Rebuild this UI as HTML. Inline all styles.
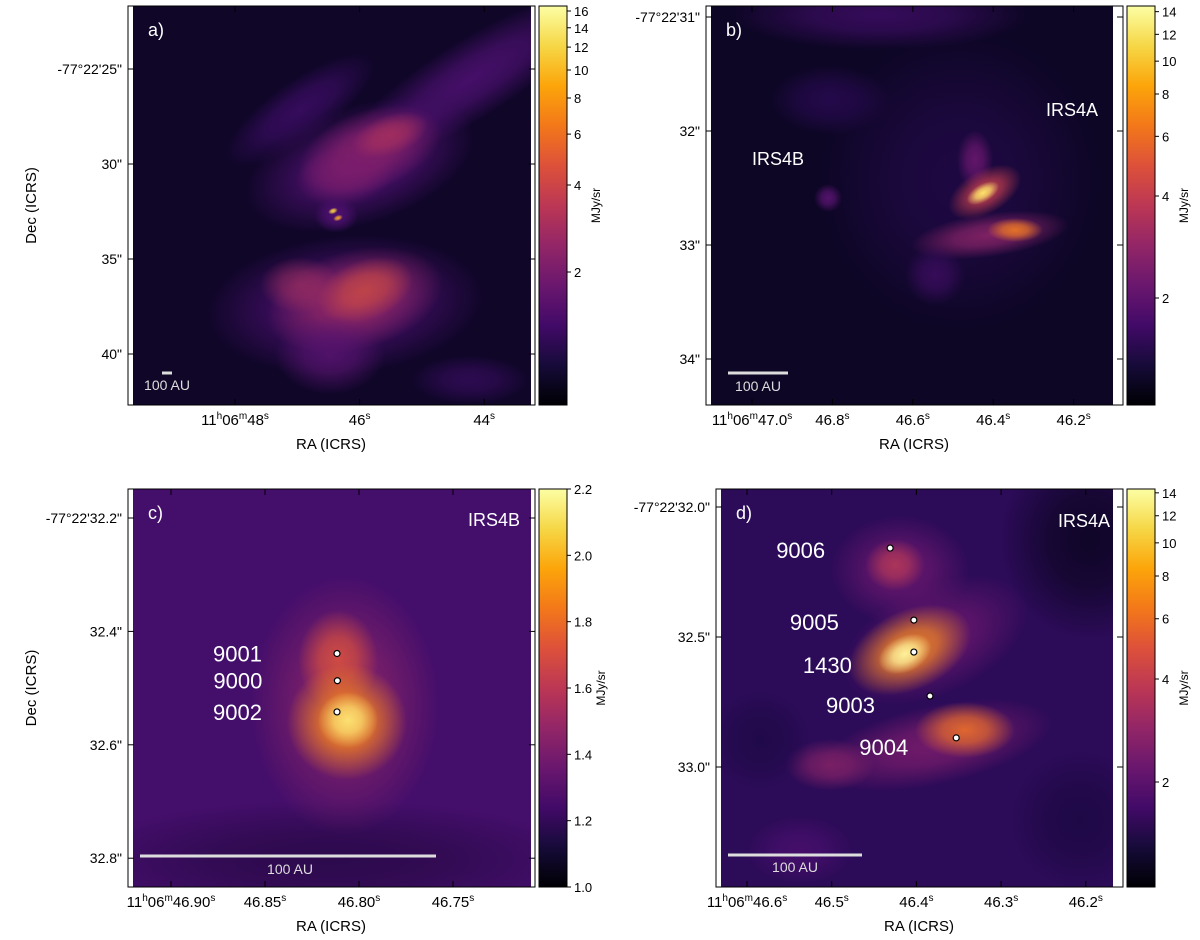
<!DOCTYPE html>
<html><head><meta charset="utf-8"><style>
body{margin:0;background:#fff;}
svg text{font-family:"Liberation Sans","DejaVu Sans",sans-serif;}
</style></head><body>
<svg id="fig" width="1200" height="935" viewBox="0 0 1200 935" xmlns="http://www.w3.org/2000/svg">
<defs id="defs">
<linearGradient id="inferno" x1="0" y1="1" x2="0" y2="0">
<stop offset="0" stop-color="#000004"/><stop offset="0.1" stop-color="#160b39"/><stop offset="0.2" stop-color="#420a68"/><stop offset="0.3" stop-color="#6a176e"/><stop offset="0.4" stop-color="#932667"/><stop offset="0.5" stop-color="#bc3754"/><stop offset="0.6" stop-color="#dd513a"/><stop offset="0.7" stop-color="#f37819"/><stop offset="0.8" stop-color="#fca50a"/><stop offset="0.9" stop-color="#f6d746"/><stop offset="1" stop-color="#fcffa4"/>
</linearGradient>
<clipPath id="clipA"><rect x="133" y="6" width="398" height="399"/></clipPath>
<clipPath id="clipB"><rect x="711" y="6" width="402" height="399"/></clipPath>
<clipPath id="clipC"><rect x="133" y="489" width="398" height="398"/></clipPath>
<clipPath id="clipD"><rect x="721" y="489" width="392" height="398"/></clipPath>
</defs>
<g id="imgA" clip-path="url(#clipA)"><rect x="128" y="6" width="407" height="399" fill="#0f0628"/></g>
<g id="imgB" clip-path="url(#clipB)"><rect x="706" y="6" width="417" height="399" fill="#0d0625"/></g>
<g id="imgC" clip-path="url(#clipC)"><rect x="128" y="489" width="407" height="398" fill="#440e6b"/></g>
<g id="imgD" clip-path="url(#clipD)"><rect x="716" y="489" width="407" height="398" fill="#2c0b58"/></g>
<g id="overlay"></g>
</svg>
<script>
// ---- data ----
const panelLetters = ['a)', 'b)', 'c)', 'd)'];
const cbA_ticks = [2, 4, 6, 8, 10, 12, 14, 16];
const cbB_ticks = [2, 4, 6, 8, 10, 12, 14];
const cbC_ticks = [1.0, 1.2, 1.4, 1.6, 1.8, 2.0, 2.2];
const cbD_ticks = [2, 4, 6, 8, 10, 12, 14];
const aYLabels = ['-77°22\'25"', '30"', '35"', '40"'];
const aYVals = [25, 30, 35, 40];
const aXVals = [48, 46, 44];
const bYLabels = ['-77°22\'31"', '32"', '33"', '34"'];
const bYVals = [31, 32, 33, 34];
const bXVals = [47.0, 46.8, 46.6, 46.4, 46.2];
const cYLabels = ['-77°22\'32.2"', '32.4"', '32.6"', '32.8"'];
const cYVals = [32.2, 32.4, 32.6, 32.8];
const cXVals = [46.90, 46.85, 46.80, 46.75];
const dYLabels = ['-77°22\'32.0"', '32.5"', '33.0"'];
const dYVals = [32.0, 32.5, 33.0];
const dXVals = [46.6, 46.5, 46.4, 46.3, 46.2];
const cSources = ['9001', '9000', '9002'];
const cSrcRA = [46.8117, 46.8115, 46.8117];
const cSrcDec = [32.439, 32.487, 32.542];
const dSources = ['9006', '9005', '1430', '9003', '9004'];
const dSrcRA = [46.431, 46.403, 46.403, 46.384, 46.353];
const dSrcDec = [32.158, 32.435, 32.558, 32.727, 32.888];

const NS = 'http://www.w3.org/2000/svg';
const ov = document.getElementById('overlay');
const defs = document.getElementById('defs');
function mk(tag, attrs, parent) {
  const e = document.createElementNS(NS, tag);
  for (const k in attrs) e.setAttribute(k, attrs[k]);
  (parent || ov).appendChild(e);
  return e;
}
function txt(x, y, s, size, anchor, fill, parent) {
  const t = mk('text', {x: x, y: y, 'font-size': size, 'text-anchor': anchor || 'middle', fill: fill || '#000'}, parent);
  t.textContent = s;
  return t;
}
let gid = 0;
function glow(parentId, cx, cy, rx, ry, rot, color, op) {
  const id = 'g' + (gid++);
  const rg = mk('radialGradient', {id: id}, defs);
  mk('stop', {offset: '0', 'stop-color': color, 'stop-opacity': op}, rg);
  mk('stop', {offset: '0.45', 'stop-color': color, 'stop-opacity': op * 0.75}, rg);
  mk('stop', {offset: '1', 'stop-color': color, 'stop-opacity': 0}, rg);
  const e = mk('ellipse', {cx: cx, cy: cy, rx: rx, ry: ry, fill: 'url(#' + id + ')',
    transform: 'rotate(' + rot + ' ' + cx + ' ' + cy + ')'}, document.getElementById(parentId));
  
  
}
// panel a
[[470,80,150,40,-32,'#4c1070',0.9],[300,110,90,30,-35,'#3a0c62',0.9],[360,165,120,60,-18,'#4e1070',1],
 [370,150,75,40,-20,'#8a2268',0.9],[390,135,40,20,-20,'#b0345c',0.7],[345,175,50,30,-10,'#7a1c6c',0.8],
 [336,215,22,18,0,'#4e1070',1],[333,211,5,3,-20,'#fcd040',1],[338,218,5,3,-20,'#f0a030',1],
 [345,305,140,70,-5,'#4a0f6e',1],[355,300,90,50,-15,'#9a2a64',0.9],[365,290,50,30,-20,'#d4503e',0.7],
 [300,285,40,28,0,'#a03060',0.7],[330,355,55,40,0,'#5a1472',0.8],[470,380,60,25,0,'#3a0c62',0.7]
].forEach(b => glow('imgA', ...b));
// panel b
[[880,15,150,35,0,'#3a0c60',0.9],[960,180,140,150,0,'#23094a',0.8],[830,100,60,35,0,'#2a0a54',0.8],
 [975,160,18,30,0,'#6a176e',0.9],[985,192,40,22,-30,'#c8404e',0.9],[983,193,18,9,-30,'#fde26a',1],
 [990,235,80,22,-8,'#8a2468',0.9],[1015,230,28,12,0,'#f07a22',0.9],[935,275,30,30,0,'#3e0d62',0.8],
 [828,198,14,14,0,'#5a1472',0.9]
].forEach(b => glow('imgB', ...b));
// panel c
[[330,860,260,60,0,'#22083f',0.7],[345,705,95,130,0,'#8a2468',0.9],[338,660,40,50,0,'#d8503e',0.9],
 [347,722,60,58,0,'#f08020',1],[348,720,30,28,0,'#fbe072',1]
].forEach(b => glow('imgC', ...b));
// panel d
[[1090,540,90,100,0,'#0c0522',0.9],[1080,820,70,70,0,'#16073a',0.6],[900,570,70,55,0,'#6a176e',0.9],
 [895,565,30,26,0,'#b43858',0.9],[935,640,100,55,-25,'#6a176e',0.9],[910,650,65,40,-25,'#f08522',0.95],
 [905,654,28,18,-25,'#fdf19a',1],[935,745,120,40,-12,'#7a1c6c',0.9],[965,730,50,28,0,'#ec6f28',0.9],
 [830,765,45,26,0,'#8a2468',0.8],[800,850,55,35,0,'#4a0f6e',0.8],[760,740,50,50,0,'#180840',0.6]
].forEach(b => glow('imgD', ...b));

// axis functions
const axA = {x: v => 235 + (48 - v) * 62.3, y: v => 69 + (v - 25) * 19};
const axB = {x: v => 752 + (47.0 - v) * 402, y: v => 17 + (v - 31) * 114};
const axC = {x: v => 171 + (46.90 - v) * 1880, y: v => 518 + (v - 32.2) * 567};
const axD = {x: v => 747 + (46.6 - v) * 847, y: v => 507 + (v - 32.0) * 260};

const panels = [
  {fx: 128, fy: 6, fw: 407, fh: 399, ix: 133, iw: 398, ax: axA, yv: aYVals, yl: aYLabels, xv: aXVals,
   xl: v => v === 48 ? ['11','h','06','m','48','s'] : [String(v),'s'], name: 'a', xlab: 331, ylab: true},
  {fx: 706, fy: 6, fw: 417, fh: 399, ix: 711, iw: 402, ax: axB, yv: bYVals, yl: bYLabels, xv: bXVals,
   xl: v => v === 47.0 ? ['11','h','06','m','47.0','s'] : [v.toFixed(1),'s'], name: 'b', xlab: 914, ylab: false},
  {fx: 128, fy: 489, fw: 407, fh: 398, ix: 133, iw: 398, ax: axC, yv: cYVals, yl: cYLabels, xv: cXVals,
   xl: v => v === 46.90 ? ['11','h','06','m','46.90','s'] : [v.toFixed(2),'s'], name: 'c', xlab: 331, ylab: true},
  {fx: 716, fy: 489, fw: 407, fh: 398, ix: 721, iw: 392, ax: axD, yv: dYVals, yl: dYLabels, xv: dXVals,
   xl: v => v === 46.6 ? ['11','h','06','m','46.6','s'] : [v.toFixed(1),'s'], name: 'd', xlab: 919, ylab: false}
];

panels.forEach((p, i) => {
  const g = mk('g', {});
  
  
  mk('rect', {x: p.fx + 1, y: p.fy, width: p.ix - p.fx - 1, height: p.fh, fill: '#fff'}, g);
  mk('rect', {x: p.ix + p.iw, y: p.fy, width: p.fx + p.fw - p.ix - p.iw - 1, height: p.fh, fill: '#fff'}, g);
  mk('rect', {x: p.fx, y: p.fy, width: p.fw, height: p.fh, fill: 'none', stroke: '#000', 'stroke-width': 1}, g);
  p.yv.forEach((v, k) => {
    const y = p.ax.y(v);
    mk('line', {x1: p.fx, y1: y, x2: p.fx + 6, y2: y, stroke: '#000'}, g);
    mk('line', {x1: p.fx + p.fw, y1: y, x2: p.fx + p.fw - 6, y2: y, stroke: '#000'}, g);
    const t = txt(p.fx - 6, y + 5, p.yl[k], 14, 'end', '#000', g);
    
    
  });
  p.xv.forEach(v => {
    const x = p.ax.x(v);
    mk('line', {x1: x, y1: p.fy + p.fh, x2: x, y2: p.fy + p.fh - 6, stroke: '#000'}, g);
    mk('line', {x1: x, y1: p.fy, x2: x, y2: p.fy + 6, stroke: '#000'}, g);
    const parts = p.xl(v);
    const t = mk('text', {x: x, y: p.fy + p.fh + 20, 'font-size': 15, 'text-anchor': 'middle', fill: '#000'}, g);
    
    
    parts.forEach((s, j) => {
      const ts = document.createElementNS(NS, 'tspan');
      const sup = (s === 'h' || s === 'm' || s === 's');
      if (sup) { ts.setAttribute('font-size', '10'); ts.setAttribute('dy', '-6'); }
      else if (j > 0) ts.setAttribute('dy', '6');
      ts.textContent = s;
      t.appendChild(ts);
    });
  });
  const xt = txt(p.xlab, p.fy + p.fh + 44, 'RA (ICRS)', 15, 'middle', '#000', g);
  
  
  if (p.ylab) {
    const yt = txt(0, 0, 'Dec (ICRS)', 15, 'middle', '#000', g);
    yt.setAttribute('transform', 'translate(36,' + (p.fy + p.fh / 2) + ') rotate(-90)');
    
    
  }
  const lt = txt(p.fx + 20, p.fy + 30, panelLetters[i], 18, 'start', '#fff', g);
  
  
});

function scalebar(x1, x2, y, ty, tx) {
  const g = mk('g', {});
  
  
  mk('line', {x1: x1, y1: y, x2: x2, y2: y, stroke: '#ddd', 'stroke-width': 3}, g);
  txt(tx, ty, '100 AU', 14, 'middle', '#ddd', g);
}
scalebar(162, 172, 373, 390, 167);
scalebar(728, 788, 373, 391, 758);
scalebar(140, 436, 856, 874, 290);
scalebar(728, 862, 855, 872, 795);

[['IRS4B', 752, 165, 'start'], ['IRS4A', 1098, 116, 'end']].forEach(a => {
  const t = txt(a[1], a[2], a[0], 18, a[3], '#fff');
  
  
});
[['IRS4B', 520, 526], ['IRS4A', 1110, 527]].forEach(a => {
  const t = txt(a[1], a[2], a[0], 18, 'end', '#fff');
  
  
});

cSources.forEach((s, k) => {
  const x = axC.x(cSrcRA[k]), y = axC.y(cSrcDec[k]);
  const c = mk('circle', {cx: x, cy: y, r: 3, fill: '#fff', stroke: '#000', 'stroke-width': 1.2});
  
  
  const t = txt(x - 75, y + 8, s, 22, 'end', '#fff');
  
  
});
const dOff = [[-65, 10], [-75, 10], [-62, 21], [-55, 17], [-48, 17]];
dSources.forEach((s, k) => {
  const x = axD.x(dSrcRA[k]), y = axD.y(dSrcDec[k]);
  const c = mk('circle', {cx: x, cy: y, r: 3, fill: '#fff', stroke: '#000', 'stroke-width': 1.2});
  
  
  const t = txt(x + dOff[k][0], y + dOff[k][1], s, 22, 'end', '#fff');
  
  
});

function colorbar(x, y, h, ticks, scale, name, log) {
  const g = mk('g', {});
  
  
  mk('rect', {x: x, y: y, width: 28, height: h, fill: 'url(#inferno)', stroke: '#000', 'stroke-width': 1}, g);
  ticks.forEach(v => {
    const ty = scale(v);
    mk('line', {x1: x + 28, y1: ty, x2: x + 32, y2: ty, stroke: '#000'}, g);
    txt(x + 35, ty + 5, log ? String(v) : v.toFixed(1), 13, 'start', '#000', g);
  });
  const t = txt(0, 0, 'MJy/sr', 12, 'middle', '#000', g);
  t.setAttribute('transform', 'translate(' + (x + (log ? 61 : 66)) + ',' + (y + h / 2) + ') rotate(-90)');
}
colorbar(539, 6, 399, cbA_ticks, v => 272 - 87 * Math.log2(v / 2), 'colorbar-a', true);
colorbar(1127, 6, 399, cbB_ticks, v => 298 - 102 * Math.log2(v / 2), 'colorbar-b', true);
colorbar(539, 489, 398, cbC_ticks, v => 887 - (v - 1.0) / 1.2 * 398, 'colorbar-c', false);
colorbar(1127, 489, 398, cbD_ticks, v => 782 - 103 * Math.log2(v / 2), 'colorbar-d', true);
</script>
</body></html>
